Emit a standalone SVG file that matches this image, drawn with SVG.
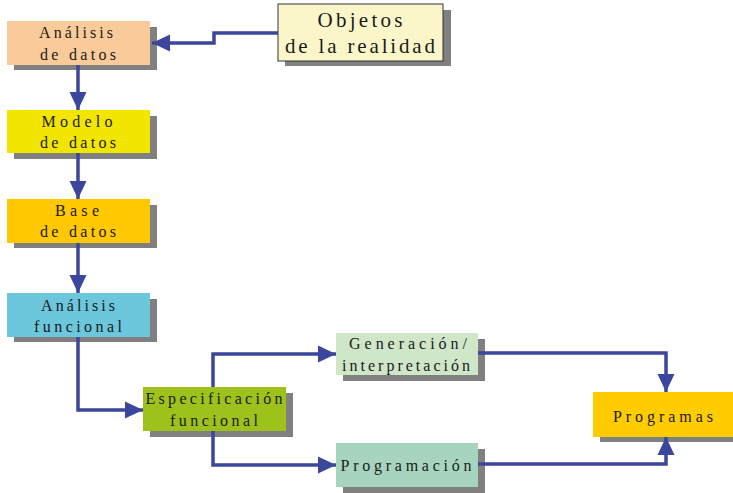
<svg xmlns="http://www.w3.org/2000/svg" width="733" height="493" viewBox="0 0 733 493">
<defs>
<marker id="ah" markerUnits="userSpaceOnUse" markerWidth="19" markerHeight="18" refX="18" refY="9" orient="auto">
<path d="M0,0.5 L18,9 L0,17.5 z" fill="#3A479C"/>
</marker>
</defs>
<style>
.sh{fill:#808080}
.c{fill:none;stroke:#3A479C;stroke-width:3.5;marker-end:url(#ah)}
</style>
<rect width="733" height="493" fill="#ffffff"/>
<g font-family="Liberation Serif" font-size="16" fill="#1a1a1a" text-anchor="middle">
<g id="objetos">
<rect class="sh" x="285" y="10" width="166" height="56"/>
<rect x="278" y="4" width="165" height="57" fill="#FBF6C9" stroke="#333" stroke-width="1"/>
<text x="360" y="27" font-size="21" textLength="85" lengthAdjust="spacing">Objetos</text>
<text x="360" y="53" font-size="21" textLength="150" lengthAdjust="spacing">de la realidad</text>
</g>
<g id="analisis-datos">
<rect class="sh" x="14" y="27" width="143" height="43"/>
<rect x="7" y="21" width="143" height="44" fill="#FACB9A"/>
<text x="76" y="38" textLength="74" lengthAdjust="spacing">Análisis</text>
<text x="78" y="60" textLength="76" lengthAdjust="spacing">de datos</text>
</g>
<g id="modelo-datos">
<rect class="sh" x="14" y="116" width="143" height="43"/>
<rect x="7" y="110" width="143" height="43" fill="#F2E600"/>
<text x="77" y="127" textLength="71" lengthAdjust="spacing">Modelo</text>
<text x="78" y="148" textLength="76" lengthAdjust="spacing">de datos</text>
</g>
<g id="base-datos">
<rect class="sh" x="14" y="205" width="143" height="43"/>
<rect x="7" y="199" width="143" height="44" fill="#FFC800"/>
<text x="77" y="216" textLength="44" lengthAdjust="spacing">Base</text>
<text x="78" y="237" textLength="76" lengthAdjust="spacing">de datos</text>
</g>
<g id="analisis-funcional">
<rect class="sh" x="14" y="299" width="143" height="43"/>
<rect x="7" y="293" width="143" height="44" fill="#6CC6DC"/>
<text x="78" y="311" textLength="74" lengthAdjust="spacing">Análisis</text>
<text x="78" y="332" textLength="88" lengthAdjust="spacing">funcional</text>
</g>
<g id="especificacion">
<rect class="sh" x="150" y="393" width="143" height="44"/>
<rect x="143" y="387" width="143" height="44" fill="#9DC21B"/>
<text x="214" y="404" textLength="137" lengthAdjust="spacing">Especificación</text>
<text x="214" y="426" textLength="88" lengthAdjust="spacing">funcional</text>
</g>
<g id="generacion">
<rect class="sh" x="343" y="339" width="142" height="42"/>
<rect x="336" y="333" width="142" height="42" fill="#CFE6C9"/>
<text x="408" y="349" textLength="118" lengthAdjust="spacing">Generación/</text>
<text x="406" y="371" textLength="128" lengthAdjust="spacing">interpretación</text>
</g>
<g id="programacion">
<rect class="sh" x="343" y="449" width="142" height="44"/>
<rect x="336" y="443" width="142" height="44" fill="#A6D4BF"/>
<text x="406" y="471" textLength="131" lengthAdjust="spacing">Programación</text>
</g>
<g id="programas">
<rect class="sh" x="600" y="398" width="140" height="44"/>
<rect x="593" y="392" width="145" height="45" fill="#FFCC00"/>
<text x="663" y="422" textLength="100" lengthAdjust="spacing">Programas</text>
</g>
</g>
<g id="connectors">
<path class="c" d="M278,33 H214 V43 H152"/>
<path class="c" d="M78,65 V110"/>
<path class="c" d="M78,153 V199"/>
<path class="c" d="M78,243 V293"/>
<path class="c" d="M78,337 V410 H143"/>
<path class="c" d="M213,387 V354 H336"/>
<path class="c" d="M213,431 V465 H336"/>
<path class="c" d="M478,353 H666 V392"/>
<path class="c" d="M478,464 H666 V437"/>
</g>
</svg>
